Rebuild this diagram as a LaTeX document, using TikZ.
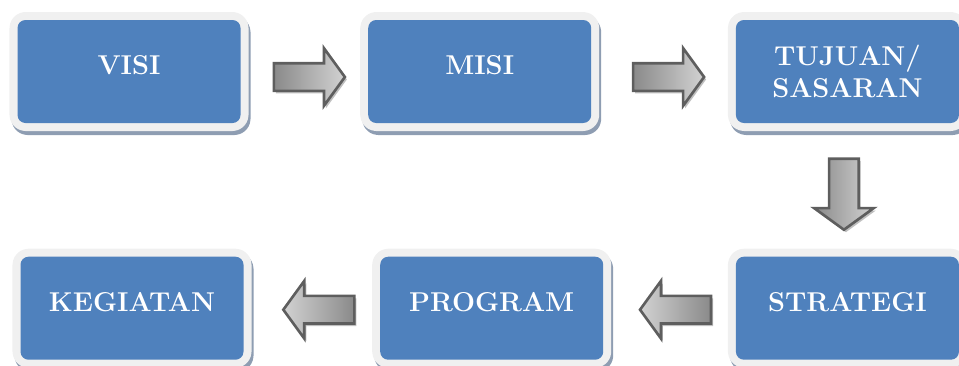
\documentclass[tikz,border=0pt]{standalone}
\usepackage{tikz}
\usetikzlibrary{positioning,calc,shapes.arrows}
\definecolor{boxblue}{HTML}{4F81BD}
\definecolor{boxrim}{HTML}{F0F0F0}
\definecolor{boxshade}{HTML}{8E9DB2}
\definecolor{arrowline}{HTML}{5E5E5E}
\definecolor{arrowdark}{HTML}{8A8A8A}
\definecolor{arrowlight}{HTML}{D2D2D2}
\tikzset{
  phase/.style={rectangle,rounded corners=.16cm,minimum width=4.46cm,minimum height=2.06cm,
    inner sep=0pt,fill=boxblue,text=white,font=\fontsize{15.5}{18.5}\selectfont\bfseries,align=center,
    preaction={draw=boxshade,fill=boxshade,line width=.32cm,line join=round,
      transform canvas={shift={(.04,-.08)}}},
    preaction={draw=boxrim,fill=boxrim,line width=.32cm,line join=round}},
  flow/.style={single arrow,single arrow head extend=.3cm,single arrow tip angle=108,
    minimum height=1.42cm,inner xsep=0pt,inner ysep=.25cm,draw=arrowline,line width=1.5pt,
    preaction={fill=black!25,transform canvas={shift={(.04,-.05)}}}}
}
\begin{document}
\begin{tikzpicture}[node distance=2.6cm]
\useasboundingbox (0,0) rectangle (19.18,-7.3);
\node[phase,text depth=.25cm] (visi) at (2.58,-1.43) {VISI};
\node[phase,text depth=.25cm] (misi) [right=2.54cm of visi] {MISI};
\node[phase] (tujuan) [right=2.88cm of misi] {TUJUAN/\\SASARAN};
\node[phase,text depth=.25cm] (strategi) [below=2.66cm of tujuan] {STRATEGI};
\node[phase,text depth=.25cm] (program) [left=2.64cm of strategi] {PROGRAM};
\node[phase,text depth=.25cm] (kegiatan) [left=2.72cm of program] {KEGIATAN};
\node[flow,left color=arrowdark,right color=arrowlight] (a1) at ($(visi.east)!.5!(misi.west)+(0,-.11)$) {};
\node[flow,left color=arrowdark,right color=arrowlight] (a2) at ($(misi.east)!.5!(tujuan.west)+(0,-.11)$) {};
\node[flow,shape border rotate=270,inner xsep=.27cm,inner ysep=0pt,left color=arrowdark,right color=arrowlight] (a3) at ($(tujuan.south)!.5!(strategi.north)+(-.07,.02)$) {};
\node[flow,shape border rotate=180,left color=arrowlight,right color=arrowdark] (a4) at ($(strategi.west)!.5!(program.east)+(.22,-.03)$) {};
\node[flow,shape border rotate=180,left color=arrowlight,right color=arrowdark] (a5) at ($(program.west)!.5!(kegiatan.east)+(.24,-.03)$) {};
\end{tikzpicture}
\end{document}
